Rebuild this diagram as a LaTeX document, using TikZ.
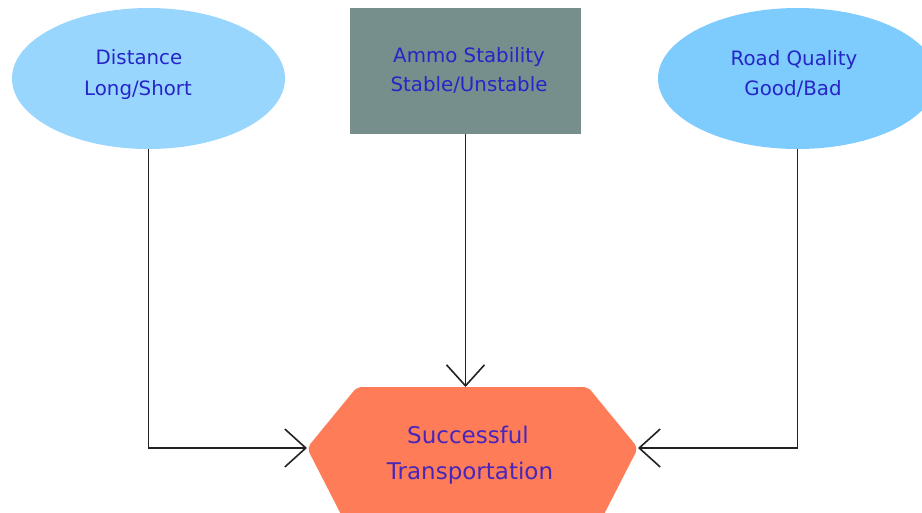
\documentclass[tikz,border=0pt]{standalone}
\usepackage{fontspec}
\setmainfont{DejaVu Sans}
\usetikzlibrary{arrows.meta,shapes.geometric}
\definecolor{ellA}{RGB}{153,214,254}
\definecolor{ellB}{RGB}{126,203,254}
\definecolor{boxC}{RGB}{118,143,140}
\definecolor{hexC}{RGB}{255,124,88}
\definecolor{txtA}{RGB}{37,37,200}
\definecolor{txtB}{RGB}{72,38,186}
\definecolor{lineC}{RGB}{34,34,34}
\tikzset{
  lbl/.style={anchor=base,inner sep=0pt,text=txtA,font=\fontsize{19.8}{22}\selectfont},
  lblb/.style={anchor=base,inner sep=0pt,text=txtB,font=\fontsize{23}{27}\selectfont},
  conn/.style={draw=lineC,line width=1.6pt,-{Straight Barb[length=21pt,width=38pt]}},
}
\begin{document}
\begin{tikzpicture}[x=1pt,y=-1pt]
\clip (0,0) rectangle (922,512);
\useasboundingbox (0,0) rectangle (922,512);
% shapes
\node[ellipse,fill=ellA,minimum width=273pt,minimum height=141pt,inner sep=0pt] (dist) at (148.5,78.5) {};
\node[rectangle,fill=boxC,minimum width=231pt,minimum height=126pt,inner sep=0pt] (ammo) at (465.5,71) {};
\node[ellipse,fill=ellB,minimum width=279pt,minimum height=141pt,inner sep=0pt] (road) at (797.5,78.5) {};
\coordinate (hl) at (307,448);
\coordinate (hr) at (638,448);
\coordinate (ht) at (465.5,387);
\fill[hexC,rounded corners=5pt] (hl) -- (357,387) -- (588,387) -- (hr) -- (596,530) -- (349,530) -- cycle;
% labels
\node[lbl] (d1) at (139,64) {Distance};
\node[lbl] (d2) at (138,95) {Long/Short};
\node[lbl] (a1) at (469,62) {Ammo Stability};
\node[lbl] (a2) at (469,91) {Stable/Unstable};
\node[lbl] (r1) at (794,65) {Road Quality};
\node[lbl] (r2) at (793,95) {Good/Bad};
\node[lblb] (s1) at (468,443) {Successful};
\node[lblb] (s2) at (470,479) {Transportation};
% connectors
\draw[conn] (dist.south) |- (hl);
\draw[conn] (ammo.south) -- (ht);
\draw[conn] (road.south) |- (hr);
\end{tikzpicture}
\end{document}
